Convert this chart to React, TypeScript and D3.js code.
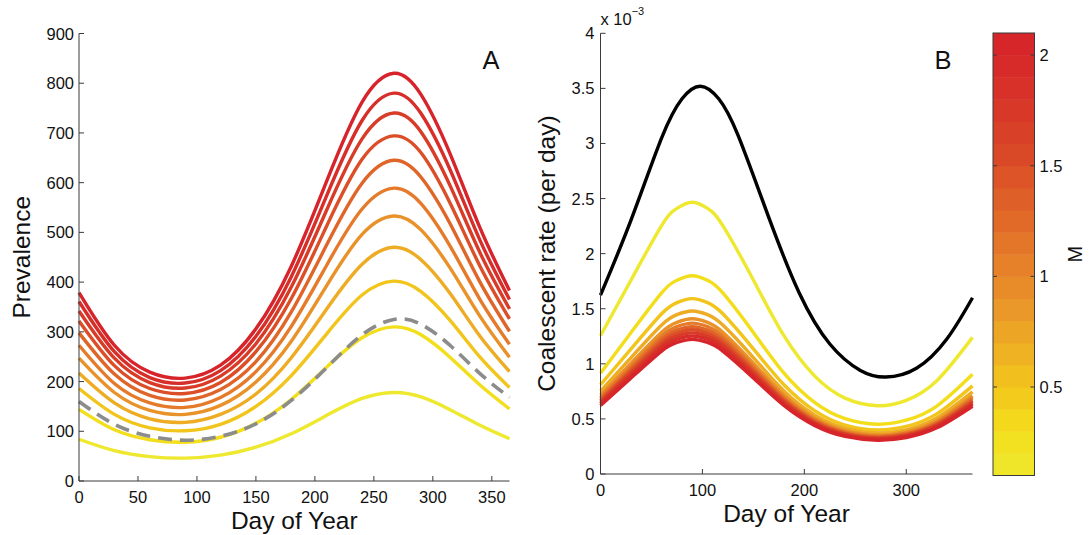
import React from 'react';
import * as d3 from 'd3';

// ---------- Panel A: prevalence ----------
const daysA = [0, 30, 60, 90, 120, 150, 180, 210, 240, 267, 290, 315, 340, 365];
const prevM21 = [379, 273, 219, 207, 233, 306, 432, 603, 762, 820, 777, 656, 509, 383];
const prevM19 = [361, 260, 208, 197, 222, 291, 411, 574, 725, 780, 739, 624, 484, 365];
const prevM17 = [342, 247, 198, 187, 211, 276, 390, 545, 688, 740, 702, 592, 459, 346];
const prevM15 = [322, 232, 186, 176, 198, 260, 367, 513, 647, 694, 660, 557, 432, 326];
const prevM13 = [298, 215, 172, 163, 184, 240, 340, 475, 599, 645, 611, 516, 400, 301];
const prevM11 = [273, 196, 157, 148, 168, 220, 311, 434, 547, 589, 558, 471, 365, 275];
const prevM09 = [247, 178, 142, 134, 152, 199, 281, 393, 496, 533, 505, 427, 331, 249];
const prevM07 = [217, 157, 125, 118, 134, 175, 248, 346, 436, 470, 445, 376, 291, 220];
const prevM05 = [186, 134, 107, 101, 114, 150, 212, 296, 374, 402, 381, 322, 249, 188];
const prevM03 = [144, 103, 83, 78, 88, 116, 164, 229, 288, 310, 294, 248, 193, 145];
const prevM01 = [84, 61, 49, 46, 52, 68, 95, 132, 166, 178, 169, 143, 112, 85];
const prevGray = [160, 114, 90, 82, 90, 115, 162, 228, 294, 325, 315, 272, 216, 168];

const seriesA = [
  { m: 0.1, v: prevM01 }, { m: 0.3, v: prevM03 }, { m: 0.5, v: prevM05 },
  { m: 0.7, v: prevM07 }, { m: 0.9, v: prevM09 }, { m: 1.1, v: prevM11 },
  { m: 1.3, v: prevM13 }, { m: 1.5, v: prevM15 }, { m: 1.7, v: prevM17 },
  { m: 1.9, v: prevM19 }, { m: 2.1, v: prevM21 },
];

// ---------- Panel B: coalescent rate (x 10^-3 per day) ----------
const daysB = [0, 30, 60, 75, 90, 105, 120, 150, 180, 210, 240, 272, 300, 330, 365];
const coalM01 = [1.255, 1.761, 2.255, 2.411, 2.467, 2.411, 2.255, 1.761, 1.255, 0.891, 0.689, 0.620, 0.669, 0.847, 1.240];
const coalM03 = [0.915, 1.284, 1.644, 1.758, 1.799, 1.758, 1.644, 1.284, 0.915, 0.650, 0.502, 0.452, 0.488, 0.617, 0.905];
const coalM05 = [0.810, 1.136, 1.455, 1.556, 1.592, 1.556, 1.455, 1.136, 0.810, 0.575, 0.444, 0.400, 0.432, 0.546, 0.800];
const coalM07 = [0.753, 1.057, 1.353, 1.447, 1.480, 1.447, 1.353, 1.057, 0.753, 0.535, 0.413, 0.372, 0.401, 0.508, 0.745];
const coalM09 = [0.717, 1.006, 1.287, 1.377, 1.409, 1.377, 1.287, 1.006, 0.717, 0.509, 0.393, 0.354, 0.382, 0.483, 0.710];
const coalM11 = [0.696, 0.977, 1.251, 1.338, 1.369, 1.338, 1.251, 0.977, 0.696, 0.494, 0.382, 0.344, 0.371, 0.470, 0.690];
const coalM13 = [0.680, 0.954, 1.222, 1.307, 1.337, 1.307, 1.222, 0.954, 0.680, 0.483, 0.373, 0.336, 0.363, 0.459, 0.673];
const coalM15 = [0.666, 0.935, 1.196, 1.279, 1.309, 1.279, 1.196, 0.935, 0.666, 0.473, 0.366, 0.329, 0.355, 0.449, 0.660];
const coalM17 = [0.652, 0.915, 1.171, 1.252, 1.281, 1.252, 1.171, 0.915, 0.652, 0.463, 0.358, 0.322, 0.347, 0.440, 0.645];
const coalM19 = [0.638, 0.895, 1.146, 1.225, 1.253, 1.225, 1.146, 0.895, 0.638, 0.453, 0.350, 0.315, 0.340, 0.430, 0.632];
const coalM21 = [0.622, 0.872, 1.116, 1.194, 1.222, 1.194, 1.116, 0.872, 0.622, 0.441, 0.341, 0.307, 0.331, 0.419, 0.615];

const daysBlack = [0, 30, 60, 80, 98, 116, 135, 165, 195, 225, 255, 280, 310, 340, 365];
const coalBlack = [1.624, 2.306, 3.051, 3.406, 3.52, 3.406, 3.073, 2.331, 1.643, 1.180, 0.940, 0.880, 0.960, 1.228, 1.600];

const seriesB = [
  { m: 0.1, v: coalM01 }, { m: 0.3, v: coalM03 }, { m: 0.5, v: coalM05 },
  { m: 0.7, v: coalM07 }, { m: 0.9, v: coalM09 }, { m: 1.1, v: coalM11 },
  { m: 1.3, v: coalM13 }, { m: 1.5, v: coalM15 }, { m: 1.7, v: coalM17 },
  { m: 1.9, v: coalM19 }, { m: 2.1, v: coalM21 },
];

// ---------- ticks & colormap ----------
const ticksAx = [0, 50, 100, 150, 200, 250, 300, 350];
const ticksAy = [0, 100, 200, 300, 400, 500, 600, 700, 800, 900];
const ticksBx = [0, 100, 200, 300];
const ticksBy = [0, 0.5, 1, 1.5, 2, 2.5, 3, 3.5, 4];
const ticksC = [0.5, 1, 1.5, 2];
const cmapM = [0.1, 0.3, 0.5, 0.7, 0.9, 1.1, 1.3, 1.5, 1.7, 1.9, 2.1];
const cmapColors = ['#EEE82E', '#F3DE1B', '#F2C51C', '#EEAB24', '#E9922A', '#E57B2A', '#E06528', '#DB4E27', '#D83C28', '#D72E29', '#D7232A'];
const colorBands = d3.range(20).map((i) => 0.1 + i * 0.1);

const FONT = '"Liberation Sans", Arial, Helvetica, sans-serif';
const AX = '#3a3a3a';

export default function App() {
  const xA = d3.scaleLinear().domain([0, 365]).range([79, 509.5]);
  const yA = d3.scaleLinear().domain([0, 900]).range([481, 33.5]);
  const xB = d3.scaleLinear().domain([0, 365]).range([600.5, 972.5]);
  const yB = d3.scaleLinear().domain([0, 4]).range([474, 33.3]);
  const yC = d3.scaleLinear().domain([0.1, 2.1]).range([475.5, 33]);
  const cmap = d3.scaleLinear<string>().domain(cmapM).range(cmapColors).interpolate(d3.interpolateRgb);

  const lineA = (vals: number[], days: number[]) =>
    d3.line<number>().x((_, i) => xA(days[i])).y((d) => yA(d)).curve(d3.curveNatural)(vals) || '';
  const lineB = (vals: number[], days: number[]) =>
    d3.line<number>().x((_, i) => xB(days[i])).y((d) => yB(d)).curve(d3.curveNatural)(vals) || '';

  const tickFont = 16.5;
  const cx0 = 993, cx1 = 1034.5;
  const LW = 3.4;

  return (
    <svg width={1090} height={535} style={{ position: 'absolute', left: 0, top: 0, background: '#fff' }} fontFamily={FONT}>
      <rect x={0} y={0} width={1090} height={535} fill="#fff" />
      {/* ---------- Panel A ---------- */}
      <g>
        {seriesA.map((s) => (
          <path key={'a' + s.m} d={lineA(s.v, daysA)} fill="none" stroke={cmap(s.m)} strokeWidth={LW} strokeLinejoin="round" />
        ))}
        <path d={lineA(prevGray, daysA)} fill="none" stroke="#8c8c8c" strokeWidth={3.6} strokeDasharray="14 8" />
        <line x1={xA(0)} x2={xA(0)} y1={yA(900)} y2={yA(0)} stroke={AX} strokeWidth={1} />
        <line x1={xA(0)} x2={xA(365)} y1={yA(0)} y2={yA(0)} stroke={AX} strokeWidth={1} />
        {ticksAy.map((t) => (
          <g key={'ay' + t}>
            <line x1={xA(0)} x2={xA(0) + 5} y1={yA(t)} y2={yA(t)} stroke={AX} />
            <text x={xA(0) - 5} y={yA(t) + 6} textAnchor="end" fontSize={tickFont} fill="#111">{t}</text>
          </g>
        ))}
        {ticksAx.map((t) => (
          <g key={'ax' + t}>
            <line x1={xA(t)} x2={xA(t)} y1={yA(0)} y2={yA(0) - 5} stroke={AX} />
            <text x={xA(t)} y={yA(0) + 22} textAnchor="middle" fontSize={tickFont} fill="#111">{t}</text>
          </g>
        ))}
        <text x={(xA(0) + xA(365)) / 2} y={529} textAnchor="middle" fontSize={24.5} fill="#111">Day of Year</text>
        <text transform={`translate(30,${(yA(0) + yA(900)) / 2}) rotate(-90)`} textAnchor="middle" fontSize={24.5} fill="#111">Prevalence</text>
        <text x={491} y={69} textAnchor="middle" fontSize={25.5} fill="#111">A</text>
      </g>

      {/* ---------- Panel B ---------- */}
      <g>
        <path d={lineB(coalBlack, daysBlack)} fill="none" stroke="#000" strokeWidth={LW} />
        {seriesB.map((s) => (
          <path key={'b' + s.m} d={lineB(s.v, daysB)} fill="none" stroke={cmap(s.m)} strokeWidth={LW} strokeLinejoin="round" />
        ))}
        <line x1={xB(0)} x2={xB(0)} y1={yB(4)} y2={yB(0)} stroke={AX} strokeWidth={1} />
        <line x1={xB(0)} x2={xB(365)} y1={yB(0)} y2={yB(0)} stroke={AX} strokeWidth={1} />
        {ticksBy.map((t) => (
          <g key={'by' + t}>
            <line x1={xB(0)} x2={xB(0) + 5} y1={yB(t)} y2={yB(t)} stroke={AX} />
            <text x={xB(0) - 6} y={yB(t) + 6} textAnchor="end" fontSize={tickFont} fill="#111">{String(t)}</text>
          </g>
        ))}
        {ticksBx.map((t) => (
          <g key={'bx' + t}>
            <line x1={xB(t)} x2={xB(t)} y1={yB(0)} y2={yB(0) - 5} stroke={AX} />
            <text x={xB(t)} y={yB(0) + 22} textAnchor="middle" fontSize={tickFont} fill="#111">{t}</text>
          </g>
        ))}
        <text x={xB(0)} y={25} fontSize={tickFont} fill="#111">
          x 10<tspan fontSize={11} dy={-10}>−3</tspan>
        </text>
        <text x={(xB(0) + xB(365)) / 2} y={522} textAnchor="middle" fontSize={24.5} fill="#111">Day of Year</text>
        <text transform={`translate(555,${(yB(0) + yB(4)) / 2}) rotate(-90)`} textAnchor="middle" fontSize={24.5} fill="#111">Coalescent rate (per day)</text>
        <text x={943} y={69} textAnchor="middle" fontSize={25.5} fill="#111">B</text>
      </g>

      {/* ---------- Colorbar ---------- */}
      <g>
        {colorBands.map((m) => (
          <rect key={'c' + m} x={cx0} width={cx1 - cx0} y={yC(m + 0.1)} height={yC(m) - yC(m + 0.1) + 0.5} fill={cmap(m + 0.05)} />
        ))}
        <rect x={cx0} y={yC(2.1)} width={cx1 - cx0} height={yC(0.1) - yC(2.1)} fill="none" stroke={AX} strokeWidth={1} />
        {ticksC.map((t) => (
          <g key={'ct' + t}>
            <line x1={cx0} x2={cx0 + 4} y1={yC(t)} y2={yC(t)} stroke={AX} />
            <line x1={cx1} x2={cx1 - 4} y1={yC(t)} y2={yC(t)} stroke={AX} />
            <text x={cx1 + 5} y={yC(t) + 6} fontSize={tickFont} fill="#111">{String(t)}</text>
          </g>
        ))}
        <text transform={`translate(1082,${(yC(0.1) + yC(2.1)) / 2}) rotate(-90)`} textAnchor="middle" fontSize={20} fill="#111">M</text>
      </g>
    </svg>
  );
}
